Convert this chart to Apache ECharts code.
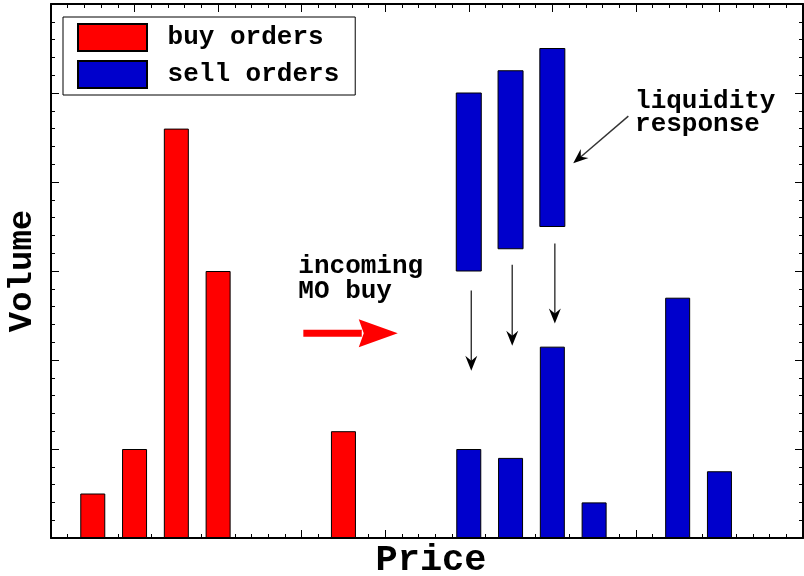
<!DOCTYPE html>
<html><head><meta charset="utf-8">
<script src="https://cdn.jsdelivr.net/npm/echarts@6/dist/echarts.min.js"></script>
<style>html,body{margin:0;padding:0;background:#fff}#c{width:804px;height:576px}</style>
</head><body><div id="c"></div>
<script>
// ---- data ----
const buyPrices = [0.5, 1.0, 1.5, 2.0, 3.5];
const buyVolumes = [0.5, 1.0, 4.6, 3.0, 1.2];
const sellPrices = [5.0, 5.5, 6.0, 6.5, 7.5, 8.0];
const sellVolumes = [1.0, 0.9, 2.15, 0.4, 2.7, 0.75];
const responsePrices = [5.0, 5.5, 6.0];
const responseLow = [3.0, 3.25, 3.5];
const responseHigh = [5.0, 5.25, 5.5];
const legendLabels = ['buy orders', 'sell orders'];
const moLines = ['incoming', 'MO buy'];
const lrLines = ['liquidity', 'response'];

// ---- style ----
const FONT = 'Liberation Mono';
const RED = '#ff0000', BLUE = '#0000cc';

function axisCommon(pos) {
  return {
    type: 'value', position: pos,
    axisLine: { onZero: false, lineStyle: { color: '#000', width: 2 } },
    axisTick: { inside: true, length: 8, lineStyle: { color: '#000', width: 1 } },
    minorTick: { show: true, splitNumber: 5, length: 4, lineStyle: { color: '#000', width: 1 } },
    axisLabel: { show: false },
    splitLine: { show: false }
  };
}
const xBottom = Object.assign(axisCommon('bottom'), {
  min: 0, max: 9, interval: 1,
  name: 'Price', nameLocation: 'middle', nameGap: 4,
  nameTextStyle: { fontFamily: FONT, fontWeight: 'bold', fontSize: 37, color: '#000', padding: [0, 0, 0, 8] }
});
const xTop = Object.assign(axisCommon('top'), { min: 0, max: 9, interval: 1 });
const yLeft = Object.assign(axisCommon('left'), {
  min: 0, max: 6, interval: 1,
  name: 'Volume', nameLocation: 'middle', nameGap: 12, nameRotate: 90,
  nameTextStyle: { fontFamily: FONT, fontWeight: 'bold', fontSize: 34, color: '#000' }
});
const yRight = Object.assign(axisCommon('right'), { min: 0, max: 6, interval: 1 });

const barStyle = c => ({ color: c, borderColor: '#000', borderWidth: 1 });
const BW = 25;

const chart = echarts.init(document.getElementById('c'), null, { renderer: 'canvas' });
chart.setOption({
  animation: false,
  backgroundColor: '#fff',
  grid: { left: 51, right: 1, top: 4, bottom: 38, containLabel: false, outerBoundsMode: 'none' },
  xAxis: [xBottom, xTop],
  yAxis: [yLeft, yRight],
  legend: {
    orient: 'vertical', left: 63, top: 17, data: legendLabels, icon: 'rect',
    itemWidth: 69, itemHeight: 27, itemGap: 8, padding: [6, 16, 6, 14],
    borderColor: '#000', borderWidth: 1, backgroundColor: '#fff',
    formatter: n => ' ' + n,
    textStyle: { fontFamily: FONT, fontWeight: 'bold', fontSize: 26, color: '#000' }
  },
  series: [
    { name: 'buy orders', type: 'bar', xAxisIndex: 0, yAxisIndex: 0, barWidth: BW, barGap: '-100%',
      data: buyPrices.map((x, i) => [x, buyVolumes[i]]), itemStyle: barStyle(RED) },
    { name: 'sell orders', type: 'bar', xAxisIndex: 0, yAxisIndex: 0, barWidth: BW, barGap: '-100%',
      data: sellPrices.map((x, i) => [x, sellVolumes[i]]), itemStyle: barStyle(BLUE) },
    { name: 'sell orders', type: 'custom', xAxisIndex: 0, yAxisIndex: 0,
      data: responsePrices.map((x, i) => [x, responseLow[i], responseHigh[i]]),
      encode: { x: 0, y: [1, 2] },
      itemStyle: barStyle(BLUE),
      renderItem: (params, api) => {
        const x = api.value(0), lo = api.value(1), hi = api.value(2);
        const top = api.coord([x, hi]), bot = api.coord([x, lo]);
        return { type: 'rect',
          shape: { x: top[0] - BW / 2, y: top[1], width: BW, height: bot[1] - top[1] },
          style: { fill: BLUE, stroke: '#000', lineWidth: 1 } };
      } }
  ]
});

// ---- annotations (anchored in data coordinates) ----
const P = (x, y) => chart.convertToPixel({ gridIndex: 0 }, [x, y]);
function arrowHead(tip, from, L, W, N, color) {
  const dx = tip[0] - from[0], dy = tip[1] - from[1];
  const len = Math.hypot(dx, dy), ux = dx / len, uy = dy / len, nx = -uy, ny = ux;
  return { type: 'polygon', z: 100, shape: { points: [
    tip,
    [tip[0] - L * ux + W * nx, tip[1] - L * uy + W * ny],
    [tip[0] - (L - N) * ux, tip[1] - (L - N) * uy],
    [tip[0] - L * ux - W * nx, tip[1] - L * uy - W * ny]
  ] }, style: { fill: color } };
}
function thinArrow(a, b) {
  return [
    { type: 'line', z: 100, shape: { x1: a[0], y1: a[1], x2: b[0] - (b[0]-a[0]) * 0.05, y2: b[1] - (b[1]-a[1]) * 0.05 },
      style: { stroke: '#333', lineWidth: 1.4 } },
    arrowHead(b, a, 15, 6, 5, '#000')
  ];
}
const textStyle = { fontFamily: FONT, fontWeight: 'bold', fontSize: 26, fill: '#000' };
const g = [];
// incoming MO buy text
const moPos = P(2.96, 2.98);
moLines.forEach((t, i) => g.push({ type: 'text', z: 100, x: moPos[0], y: moPos[1] - 6 + i * 25,
  style: Object.assign({ text: t, align: 'left', verticalAlign: 'middle' }, textStyle) }));
// red arrow
const rs = P(3.02, 2.30), re = P(4.15, 2.30);
g.push({ type: 'rect', z: 100, shape: { x: rs[0], y: rs[1] - 3.5, width: re[0] - rs[0] - 36, height: 7 }, style: { fill: RED } });
g.push({ type: 'polygon', z: 100, shape: { points: [
  [re[0] - 39, re[1] - 14], re, [re[0] - 39, re[1] + 14], [re[0] - 34, re[1]]
] }, style: { fill: RED } });
// vertical arrows
[[5.03, 2.78, 1.88], [5.52, 3.07, 2.16], [6.03, 3.31, 2.41]].forEach(([x, y1, y2]) => {
  g.push(...thinArrow(P(x, y1), P(x, y2)));
});
// diagonal arrow
g.push(...thinArrow(P(6.91, 4.74), P(6.25, 4.21)));
// liquidity response text
const lrPos = P(6.99, 4.83);
lrLines.forEach((t, i) => g.push({ type: 'text', z: 100, x: lrPos[0], y: lrPos[1] - 7 + i * 23.5,
  style: Object.assign({ text: t, align: 'left', verticalAlign: 'middle' }, textStyle) }));
chart.setOption({ graphic: g });
</script></body></html>
